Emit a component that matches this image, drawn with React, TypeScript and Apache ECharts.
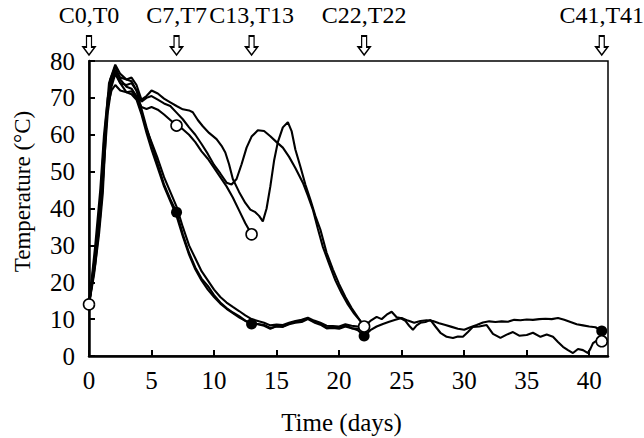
import React, { useEffect, useRef } from "react";
import * as echarts from "echarts";

// Tick labels
const xTicks = [0, 5, 10, 15, 20, 25, 30, 35, 40];
const yTicks = [0, 10, 20, 30, 40, 50, 60, 70, 80];

// Sampling annotations (day, label)
const sampleDays = [0, 7, 13, 22, 41];
const sampleLabels = ["C0,T0", "C7,T7", "C13,T13", "C22,T22", "C41,T41"];

// Fast-cooling pile (C) sensor lines [day, °C]
const lineC1: number[][] = [
  [0, 14], [0.4, 24], [0.8, 36], [1.1, 46], [1.3, 62], [1.6, 74], [2.1, 79], [2.5, 76.5], [3, 75], [3.4, 74.5],
  [3.8, 72], [4.2, 67], [4.6, 62], [5, 57.5], [5.5, 52], [6, 46.5], [6.5, 42.5], [7, 39], [7.5, 33], [8, 28],
  [8.5, 24], [9, 21], [9.5, 19], [10, 16.5], [10.5, 14.5], [11, 13], [11.5, 11.8], [12, 10.8], [12.5, 9.6], [13, 8.7],
  [13.5, 8.6], [14, 8.2], [14.5, 7.4], [15, 8.1], [15.5, 8], [16, 8.8], [16.5, 9.2], [17, 9.4], [17.5, 10.2], [18, 9.3],
  [18.5, 8.8], [19, 7.7], [19.5, 7.8], [20, 7.6], [20.5, 8.3], [21, 7.6], [21.5, 7], [22, 5.4], [22.5, 7], [23, 8],
  [23.5, 8.7], [24, 9.3], [24.5, 9.8], [25, 10.3], [25.5, 9.6], [26, 9], [26.5, 9.5], [27, 9.7], [27.5, 9.5], [28, 8.9],
  [28.5, 8.4], [29, 7.9], [29.5, 7.4], [30, 7.1], [30.5, 7.8], [31, 8.4], [31.5, 9.1], [32, 9.4], [32.5, 9.2], [33, 9.4],
  [33.5, 9.3], [34, 9.8], [34.5, 9.7], [35, 9.9], [35.5, 9.8], [36, 10], [36.5, 10.1], [37, 10], [37.5, 10.3], [38, 9.8],
  [38.5, 9.2], [39, 8.6], [39.5, 8.3], [40, 8], [40.5, 7.8], [41, 6.8],
];
const lineC2: number[][] = [
  [0, 14], [0.4, 22], [0.8, 33], [1.1, 44], [1.4, 64], [1.7, 75], [2.1, 78.5], [2.5, 75], [3, 73], [3.4, 72.5],
  [3.8, 70.5], [4.2, 66], [4.6, 61.5], [5, 58], [5.5, 53.5], [6, 48.5], [6.5, 44.5], [7, 40.5], [7.5, 35], [8, 30],
  [8.5, 26.5], [9, 23], [9.5, 20.5], [10, 18], [10.5, 16], [11, 14.5], [11.5, 13.3], [12, 12.2], [12.5, 11], [13, 10],
  [13.5, 9.5], [14, 9], [14.5, 8.3], [15, 8.5], [15.5, 8.4], [16, 9], [16.5, 9.5], [17, 9.8], [17.5, 10.4], [18, 9.6],
  [18.5, 9], [19, 8.2], [19.5, 8.1], [20, 8], [20.5, 8.6], [21, 8.2], [21.5, 8], [22, 7.8],
];
const lineC3: number[][] = [
  [0, 14], [0.5, 26], [0.9, 40], [1.2, 55], [1.5, 68], [1.8, 74], [2.1, 77], [2.5, 74], [3, 71.5], [3.4, 71],
  [3.8, 69.5], [4.2, 65.5], [4.6, 60.5], [5, 56], [5.5, 51], [6, 46], [6.5, 42], [7, 38], [7.5, 32.5], [8, 27.5],
  [8.5, 23.5], [9, 20.5], [9.5, 18], [10, 16], [10.5, 14.2], [11, 12.8], [11.5, 11.6], [12, 10.5], [12.5, 9.5], [13, 8.9],
  [13.5, 8.7], [14, 8.4], [14.5, 7.6], [15, 8], [15.5, 7.9], [16, 8.6], [16.5, 9], [17, 9.2], [17.5, 10], [18, 9.1],
  [18.5, 8.5], [19, 7.5], [19.5, 7.6], [20, 7.4], [20.5, 8], [21, 7.5], [21.5, 7.4], [22, 7.6],
];

// Slow-cooling pile (T) sensor lines [day, °C]
const lineT1: number[][] = [
  [0, 14], [0.5, 28], [0.9, 42], [1.2, 58], [1.5, 68], [1.8, 72], [2.1, 73.5], [2.5, 72], [3, 71.5], [3.4, 71.8],
  [3.8, 70], [4.2, 67.5], [4.6, 67], [5, 67.5], [5.5, 66.8], [6, 65.5], [6.5, 64], [7, 62.5], [7.5, 61.5], [8, 60],
  [8.5, 58], [9, 55.5], [9.5, 53.5], [10, 51], [10.5, 48.5], [11, 46], [11.5, 43], [12, 39.5], [12.5, 36], [13, 33],
];
const lineT2: number[][] = [
  [0, 14], [0.5, 30], [0.9, 45], [1.2, 60], [1.5, 70], [1.8, 75], [2.1, 77.5], [2.5, 75.5], [3, 75], [3.4, 75.5],
  [3.8, 73.5], [4.2, 69.5], [4.6, 70.5], [5, 72], [5.5, 71.2], [6, 69.8], [6.5, 68.8], [7, 67.8], [7.5, 66.9], [8, 66.6],
  [8.3, 66.1], [8.7, 64], [9.1, 62.3], [9.6, 60.5], [10.2, 58.8], [10.6, 57], [10.9, 55.2], [11.2, 52], [11.5, 48], [12, 44.5],
  [12.5, 41.5], [12.9, 39.7], [13.3, 39], [13.6, 38], [13.9, 36.5], [14.2, 40], [14.5, 46], [14.8, 53], [15.1, 58], [15.5, 62],
  [15.9, 63.4], [16.2, 61], [16.5, 56], [16.9, 51.4], [17.3, 46.5], [17.7, 42.4], [18.1, 38], [18.5, 34.3], [19, 28], [19.5, 23.5],
  [20, 19.5], [20.5, 16], [21, 13], [21.5, 10.5], [22, 8], [22.5, 9.5], [23, 10.6], [23.4, 10], [23.8, 11.2], [24.2, 12],
  [24.6, 10.5], [24.9, 10.3], [25.3, 9.5], [25.6, 8.2], [25.9, 7.1], [26.2, 8.3], [26.5, 9], [26.9, 9.2], [27.3, 9.8], [27.7, 8],
  [28.1, 6.3], [28.6, 5.2], [29.1, 4.9], [29.5, 5.3], [29.9, 5.2], [30.3, 6.5], [30.7, 7.9], [31.2, 8], [31.8, 8.4], [32.3, 6],
  [32.9, 4.9], [33.4, 5.8], [33.9, 6.5], [34.4, 5.5], [35, 5.7], [35.5, 6.3], [36.1, 5.2], [36.6, 5.8], [37.1, 5.2], [37.5, 3.8],
  [37.9, 2.5], [38.3, 1.6], [38.7, 0.8], [39.1, 1.9], [39.5, 1.6], [39.9, 0.8], [40.1, 2], [40.3, 3.5], [40.6, 4.2], [41, 4],
];
const lineT3: number[][] = [
  [0, 14], [0.5, 25], [0.9, 38], [1.2, 52], [1.5, 66], [1.8, 73], [2.1, 76.5], [2.5, 74], [3, 73.5], [3.4, 74],
  [3.8, 72], [4.2, 69], [4.6, 70], [5, 70.5], [5.5, 69.5], [6, 68.5], [6.5, 67.8], [7, 66], [7.5, 64.2], [8, 62],
  [8.5, 60], [9, 57.5], [9.5, 54.8], [10, 51.8], [10.5, 49.5], [11, 47], [11.4, 46.5], [11.8, 48], [12.2, 52], [12.6, 56.5],
  [13, 59.5], [13.5, 61.2], [14, 61], [14.5, 59.6], [15, 58], [15.5, 56.5], [16, 54], [16.5, 51], [17.1, 47], [17.5, 43.5],
  [17.9, 39.7], [18.3, 34.5], [18.7, 29.6], [19.2, 25], [19.7, 20.5], [20.2, 17], [20.7, 14], [21.2, 11.5], [21.7, 9.5], [22, 8],
];

// Sampling points
const sampledC: number[][] = [[7, 39], [13, 8.7], [22, 5.4], [41, 6.8]];
const sampledT: number[][] = [[0, 14], [7, 62.5], [13, 33], [22, 8], [41, 4]];

const arrowLevel = 84.2; // °C, just above the plot frame

const FONT = "Liberation Serif";

export default function App() {
  const ref = useRef<HTMLDivElement>(null);
  useEffect(() => {
    if (!ref.current) return;
    const chart = echarts.init(ref.current, null, { renderer: "svg" });
    const lineSeries = [lineC1, lineC2, lineC3, lineT1, lineT2, lineT3].map((d, i) => ({
      type: "line",
      name: "L" + i,
      data: d,
      showSymbol: false,
      symbol: "none",
      lineStyle: { color: "#000", width: 2.1 },
      z: 2,
    }));
    const arrowData = sampleDays.map((d, i) => [d, arrowLevel, sampleLabels[i]]);
    chart.setOption({
      animation: false,
      backgroundColor: "#fff",
      textStyle: { fontFamily: FONT, color: "#000" },
      grid: {
        left: 89,
        right: 36,
        top: 61,
        bottom: 82,
        show: true,
        borderColor: "#000",
        borderWidth: 1.5,
        containLabel: false,
        outerBoundsMode: "none",
      },
      xAxis: {
        type: "value",
        min: 0,
        max: 41.5,
        interval: 5,
        name: "Time (days)",
        nameLocation: "middle",
        nameGap: 54,
        nameTextStyle: { fontFamily: FONT, fontSize: 25, color: "#000", padding: [0, 14, 0, 0] },
        axisLine: { show: true, lineStyle: { color: "#000", width: 2.5 } },
        axisTick: { show: true, inside: true, length: 6, lineStyle: { color: "#000", width: 2 } },
        axisLabel: {
          margin: 12,
          fontFamily: FONT,
          fontSize: 25,
          color: "#000",
          showMaxLabel: false,
          formatter: (v: number) => (xTicks.indexOf(v) >= 0 ? String(v) : ""),
        },
        splitLine: { show: false },
      },
      yAxis: {
        type: "value",
        min: 0,
        max: 80,
        interval: 10,
        name: "Temperature (°C)",
        nameLocation: "middle",
        nameRotate: 90,
        nameGap: 55,
        nameTextStyle: { fontFamily: FONT, fontSize: 23, color: "#000", padding: [0, 0, 0, 34] },
        axisLine: { show: true, lineStyle: { color: "#000", width: 2.5 } },
        axisTick: { show: true, inside: true, length: 6, lineStyle: { color: "#000", width: 2 } },
        axisLabel: {
          margin: 14,
          fontFamily: FONT,
          fontSize: 25,
          color: "#000",
          formatter: (v: number) => (yTicks.indexOf(v) >= 0 ? String(v) : ""),
        },
        splitLine: { show: false },
      },
      series: [
        ...lineSeries,
        {
          type: "scatter",
          name: "C samples",
          data: sampledC,
          symbol: "circle",
          symbolSize: 11,
          itemStyle: { color: "#000", opacity: 1 },
          z: 5,
        },
        {
          type: "scatter",
          name: "T samples",
          data: sampledT,
          symbol: "circle",
          symbolSize: 11,
          itemStyle: { color: "#fff", borderColor: "#000", borderWidth: 1.6, opacity: 1 },
          z: 6,
        },
        {
          type: "scatter",
          name: "Sampling",
          data: arrowData,
          clip: false,
          symbol: "path://M3.5,0 L8.5,0 L8.5,11 L12,11 L6,19 L0,11 L3.5,11 Z",
          symbolSize: [12, 19],
          itemStyle: { color: "#fff", borderColor: "#000", borderWidth: 1.5, opacity: 1 },
          label: {
            show: true,
            position: "top",
            distance: 8,
            fontFamily: FONT,
            fontSize: 24,
            color: "#000",
            formatter: (p: any) => p.data[2],
          },
          z: 7,
        },
      ],
    });
    return () => chart.dispose();
  }, []);
  return <div ref={ref} style={{ width: 644, height: 438, position: "absolute", left: 0, top: 0 }} />;
}
